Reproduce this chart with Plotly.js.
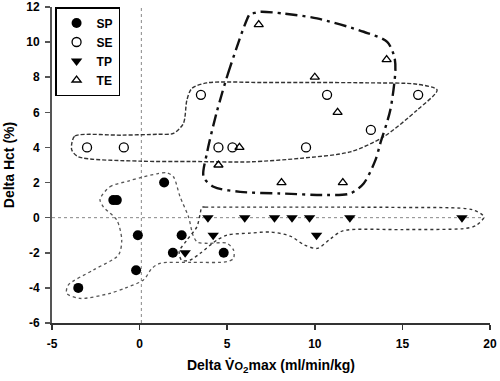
<!DOCTYPE html>
<html>
<head>
<meta charset="utf-8">
<script src="https://cdn.plot.ly/plotly-3.0.1.min.js"></script>
<style>html,body{margin:0;padding:0;background:#fff;}#chart{width:500px;height:381px;}</style>
</head>
<body>
<div id="chart"></div>
<script>
// ---- data ----
const groupNames = ["SP", "SE", "TP", "TE"];

const spX = [-1.5, -1.3, 1.4, -0.1, 2.4, -0.2, 1.9, 4.8, -3.5];
const spY = [1, 1, 2, -1, -1, -3, -2, -2, -4];

const seX = [-3.0, -0.9, 3.5, 4.5, 5.3, 10.7, 15.9, 13.2, 9.5];
const seY = [4, 4, 7, 4, 4, 7, 7, 5, 4];

const tpX = [3.9, 6.0, 7.7, 8.7, 9.7, 12.0, 18.4, 4.2, 10.1, 2.6];
const tpY = [0, 0, 0, 0, 0, 0, 0, -1, -1, -2];

const teX = [6.8, 14.1, 10.0, 11.3, 5.7, 4.5, 8.1, 11.6];
const teY = [11, 9, 8, 6, 4, 3, 2, 2];

// hand-drawn group outlines (data coordinates)
const spOutlineX = [-2.26, -1.69, -0.6, 0.12, 1.0, 1.55, 1.93, 2.31, 2.79, 3.05, 3.3, 3.9, 4.98, 5.36, 5.36, 4.98, 3.0, 1.17, 0.7, 0.22, -0.8, -1.69, -3.4, -4.16, -4.07, -2.64, -1.21, -1.02, -1.3, -2.07, -2.26];
const spOutlineY = [1.04, 1.76, 2.1, 2.3, 2.5, 2.56, 2.33, 1.19, 0.05, -1.0, -1.4, -1.46, -1.46, -1.84, -2.32, -2.51, -2.55, -2.6, -2.89, -3.55, -4.0, -4.31, -4.6, -4.31, -3.84, -2.98, -2.13, -1.28, -0.14, 0.62, 1.04];

const tpOutlineX = [3.55, 3.75, 6.0, 10.0, 15.0, 19.0, 19.65, 19.2, 18.5, 15.0, 11.6, 10.9, 10.15, 9.4, 8.6, 7.5, 6.3, 5.0, 4.41, 3.46, 2.89, 2.4, 2.26, 2.7, 3.27, 3.46, 3.55];
const tpOutlineY = [0.59, 0.6, 0.6, 0.6, 0.58, 0.45, 0.05, -0.45, -0.62, -0.68, -0.75, -1.2, -1.75, -1.55, -1.05, -0.82, -0.88, -0.99, -1.28, -2.03, -2.41, -2.43, -1.94, -1.28, -0.52, 0.24, 0.59];

const seOutlineX = [-3.87, -3.69, -1.0, 1.0, 1.93, 2.5, 2.7, 2.98, 3.84, 7.0, 10.0, 13.0, 15.84, 16.98, 15.84, 13.93, 12.03, 9.17, 6.31, 3.0, 0.0, -3.5, -3.87, -3.87];
const seOutlineY = [4.23, 4.65, 4.7, 4.75, 4.8, 5.37, 6.7, 7.36, 7.68, 7.7, 7.7, 7.68, 7.6, 7.27, 6.13, 4.61, 3.75, 3.38, 3.18, 3.2, 3.22, 3.47, 3.85, 4.23];

const teOutlineX = [6.31, 5.17, 4.4, 3.84, 3.65, 4.22, 5.74, 8.0, 10.7, 12.03, 12.79, 13.46, 13.74, 14.31, 14.6, 14.54, 14.13, 12.79, 10.13, 8.22, 6.89, 6.41, 6.31];
const teOutlineY = [11.63, 8.59, 6.0, 3.66, 2.33, 1.76, 1.47, 1.38, 1.29, 1.38, 1.95, 3.28, 4.23, 6.13, 8.4, 9.16, 10.02, 10.59, 11.35, 11.63, 11.73, 11.63, 11.63];

// reference lines
const refVx = 0.1;
const refHy = 0;
const refHxEnd = 19.7;

// axis ticks
const xTicks = [-5, 0, 5, 10, 15, 20];
const yTicks = [-6, -4, -2, 0, 2, 4, 6, 8, 10, 12];

// ---- traces ----
const outline = (x, y, color, width, dash) => ({
  x, y, type: "scatter", mode: "lines", showlegend: false, hoverinfo: "skip",
  line: {color, width, dash, shape: "spline", smoothing: 0.8}
});

const traces = [
  outline(spOutlineX, spOutlineY, "#555", 1.3, "dot"),
  outline(tpOutlineX, tpOutlineY, "#333", 1.4, "dot"),
  outline(seOutlineX, seOutlineY, "#333", 1.4, "4px,2px"),
  outline(teOutlineX, teOutlineY, "#111", 2.4, "12px,5px,3px,5px"),
  {x: spX, y: spY, name: groupNames[0], type: "scatter", mode: "markers",
   marker: {symbol: "circle", size: 10, color: "#000"}},
  {x: seX, y: seY, name: groupNames[1], type: "scatter", mode: "markers",
   marker: {symbol: "circle-open", size: 9, color: "#000", line: {width: 1.3}}},
  {x: tpX, y: tpY, name: groupNames[2], type: "scatter", mode: "markers",
   marker: {symbol: "triangle-down", size: 10, color: "#000"}},
  {x: teX, y: teY, name: groupNames[3], type: "scatter", mode: "markers",
   marker: {symbol: "triangle-up-open", size: 8, color: "#000", line: {width: 1.3}}}
];

const font = {family: "Liberation Sans, Arial, sans-serif", color: "#000", size: 12, weight: "bold"};

const layout = {
  width: 500, height: 381,
  margin: {l: 52, r: 10, t: 7, b: 58},
  paper_bgcolor: "#fff", plot_bgcolor: "#fff",
  font: font,
  showlegend: true,
  legend: {
    x: 0.007, y: 1, xanchor: "left", yanchor: "top",
    bordercolor: "#000", borderwidth: 1.5, bgcolor: "#fff",
    font: {family: font.family, size: 12, weight: "bold", color: "#000"},
    itemwidth: 30
  },
  xaxis: {
    range: [-5, 20], tickvals: xTicks, ticktext: xTicks.map(String),
    showgrid: false, zeroline: false, showline: true, linecolor: "#333", linewidth: 2,
    ticks: "outside", ticklen: 5, tickwidth: 1.5, tickcolor: "#333",
    ticklabelstandoff: 4,
    tickfont: {family: font.family, size: 12, weight: "bold", color: "#000"},
    title: {text: "Delta V\u0307<span style=\"font-size:11px\">O</span><sub>2</sub>max (ml/min/kg)",
            font: {family: font.family, size: 14, weight: "bold", color: "#000"}, standoff: 10}
  },
  yaxis: {
    range: [-6, 12], tickvals: yTicks, ticktext: yTicks.map(String),
    showgrid: false, zeroline: false, showline: true, linecolor: "#555", linewidth: 2,
    ticks: "outside", ticklen: 5, tickwidth: 1.5, tickcolor: "#555",
    ticklabelstandoff: 3,
    tickfont: {family: font.family, size: 12, weight: "bold", color: "#000"},
    title: {text: "Delta Hct (%)",
            font: {family: font.family, size: 14, weight: "bold", color: "#000"}, standoff: 8}
  },
  shapes: [
    {type: "line", xref: "x", yref: "y", x0: refVx, x1: refVx, y0: -6, y1: 12,
     line: {color: "#888", width: 1, dash: "dot"}, layer: "below"},
    {type: "line", xref: "x", yref: "y", x0: -5, x1: refHxEnd, y0: refHy, y1: refHy,
     line: {color: "#888", width: 1, dash: "dot"}, layer: "below"}
  ]
};

Plotly.newPlot("chart", traces, layout, {displayModeBar: false, staticPlot: true});
</script>
</body>
</html>
